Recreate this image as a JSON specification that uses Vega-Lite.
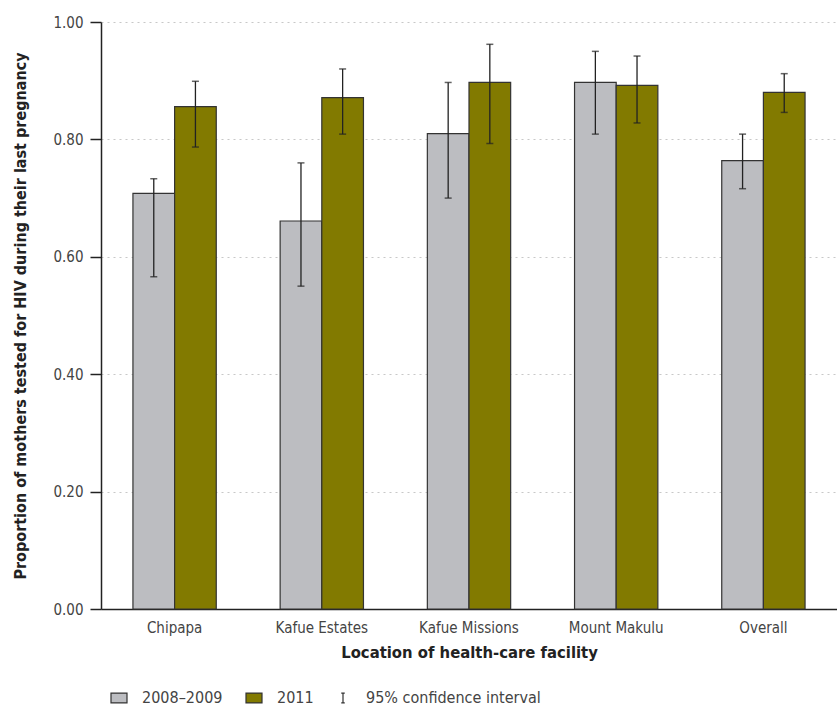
{
  "$schema": "https://vega.github.io/schema/vega-lite/v6.json",
  "width": 736,
  "height": 587,
  "autosize": {"type": "none"},
  "padding": {"left": 101, "top": 22, "right": 0, "bottom": 101},
  "background": "white",
  "config": {
    "view": {"stroke": null},
    "font": "Liberation Sans Narrow, DejaVu Sans Condensed, sans-serif",
    "axis": {
      "labelFont": "Liberation Sans Narrow, DejaVu Sans Condensed, sans-serif",
      "titleFont": "Liberation Sans Narrow, DejaVu Sans Condensed, sans-serif",
      "labelColor": "#444",
      "titleColor": "#222",
      "domainColor": "#222",
      "tickColor": "#222"
    },
    "legend": {
      "labelFont": "Liberation Sans Narrow, DejaVu Sans Condensed, sans-serif"
    }
  },
  "data": {
    "values": [
      {"location": "Chipapa", "period": "2008–2009", "value": 0.708, "lower": 0.566, "upper": 0.733},
      {"location": "Chipapa", "period": "2011", "value": 0.856, "lower": 0.787, "upper": 0.899},
      {"location": "Kafue Estates", "period": "2008–2009", "value": 0.661, "lower": 0.550, "upper": 0.760},
      {"location": "Kafue Estates", "period": "2011", "value": 0.871, "lower": 0.809, "upper": 0.920},
      {"location": "Kafue Missions", "period": "2008–2009", "value": 0.810, "lower": 0.700, "upper": 0.897},
      {"location": "Kafue Missions", "period": "2011", "value": 0.897, "lower": 0.793, "upper": 0.962},
      {"location": "Mount Makulu", "period": "2008–2009", "value": 0.897, "lower": 0.809, "upper": 0.950},
      {"location": "Mount Makulu", "period": "2011", "value": 0.892, "lower": 0.828, "upper": 0.942},
      {"location": "Overall", "period": "2008–2009", "value": 0.764, "lower": 0.716, "upper": 0.809},
      {"location": "Overall", "period": "2011", "value": 0.880, "lower": 0.846, "upper": 0.912}
    ]
  },
  "encoding": {
    "x": {
      "field": "location",
      "type": "nominal",
      "sort": ["Chipapa", "Kafue Estates", "Kafue Missions", "Mount Makulu", "Overall"],
      "scale": {"paddingInner": 0.434, "paddingOuter": 0.217},
      "axis": {
        "title": "Location of health-care facility",
        "labelAngle": 0,
        "labelFontSize": 15,
        "labelPadding": 11,
        "ticks": false,
        "titleFontSize": 16.5,
        "titleFontWeight": "bold",
        "titlePadding": 9,
        "domainWidth": 1.5
      }
    },
    "xOffset": {
      "field": "period",
      "type": "nominal",
      "sort": ["2008–2009", "2011"],
      "scale": {"paddingInner": 0, "paddingOuter": 0}
    }
  },
  "layer": [
    {
      "mark": {"type": "bar", "stroke": "#333", "strokeWidth": 1.2},
      "encoding": {
        "y": {
          "field": "value",
          "type": "quantitative",
          "scale": {"domain": [0, 1], "nice": false},
          "axis": {
            "title": "Proportion of mothers tested for HIV during their last pregnancy",
            "values": [0, 0.2, 0.4, 0.6, 0.8, 1.0],
            "format": ".2f",
            "labelFontSize": 15,
            "labelPadding": 7,
            "tickSize": 11,
            "tickWidth": 1.5,
            "domainWidth": 1.5,
            "grid": true,
            "gridColor": "#c8c8c8",
            "gridDash": [2, 4],
            "gridWidth": 1.2,
            "titleFontSize": 16,
            "titleFontWeight": "bold",
            "titlePadding": 24
          }
        },
        "color": {
          "field": "period",
          "type": "nominal",
          "scale": {
            "domain": ["2008–2009", "2011", "95% confidence interval"],
            "range": ["#bcbdc1", "#827a00", "#222222"]
          },
          "legend": {
            "title": null,
            "orient": "none",
            "direction": "horizontal",
            "legendX": 9,
            "legendY": 667,
            "labelFontSize": 16,
            "labelColor": "#444",
            "labelLimit": 0,
            "symbolSize": 256,
            "labelOffset": 14,
            "columnPadding": 20,
            "symbolStrokeColor": "#333",
            "symbolStrokeWidth": 1.2,
            "encode": {
              "symbols": {
                "update": {
                  "shape": {"signal": "datum.value === '95% confidence interval' ? 'M-0.22,-0.62H0.22M0,-0.62V0.62M-0.22,0.62H0.22' : 'M-1,-0.62H1V0.62H-1Z'"},
                  "fillOpacity": {"signal": "datum.value === '95% confidence interval' ? 0 : 1"}
                }
              }
            }
          }
        }
      }
    },
    {
      "mark": {"type": "rule", "color": "#222", "strokeWidth": 1.3},
      "encoding": {
        "y": {"field": "lower", "type": "quantitative"},
        "y2": {"field": "upper"}
      }
    },
    {
      "mark": {"type": "tick", "color": "#222", "size": 7, "thickness": 1.5},
      "encoding": {
        "y": {"field": "lower", "type": "quantitative"}
      }
    },
    {
      "mark": {"type": "tick", "color": "#222", "size": 7, "thickness": 1.5},
      "encoding": {
        "y": {"field": "upper", "type": "quantitative"}
      }
    }
  ]
}
